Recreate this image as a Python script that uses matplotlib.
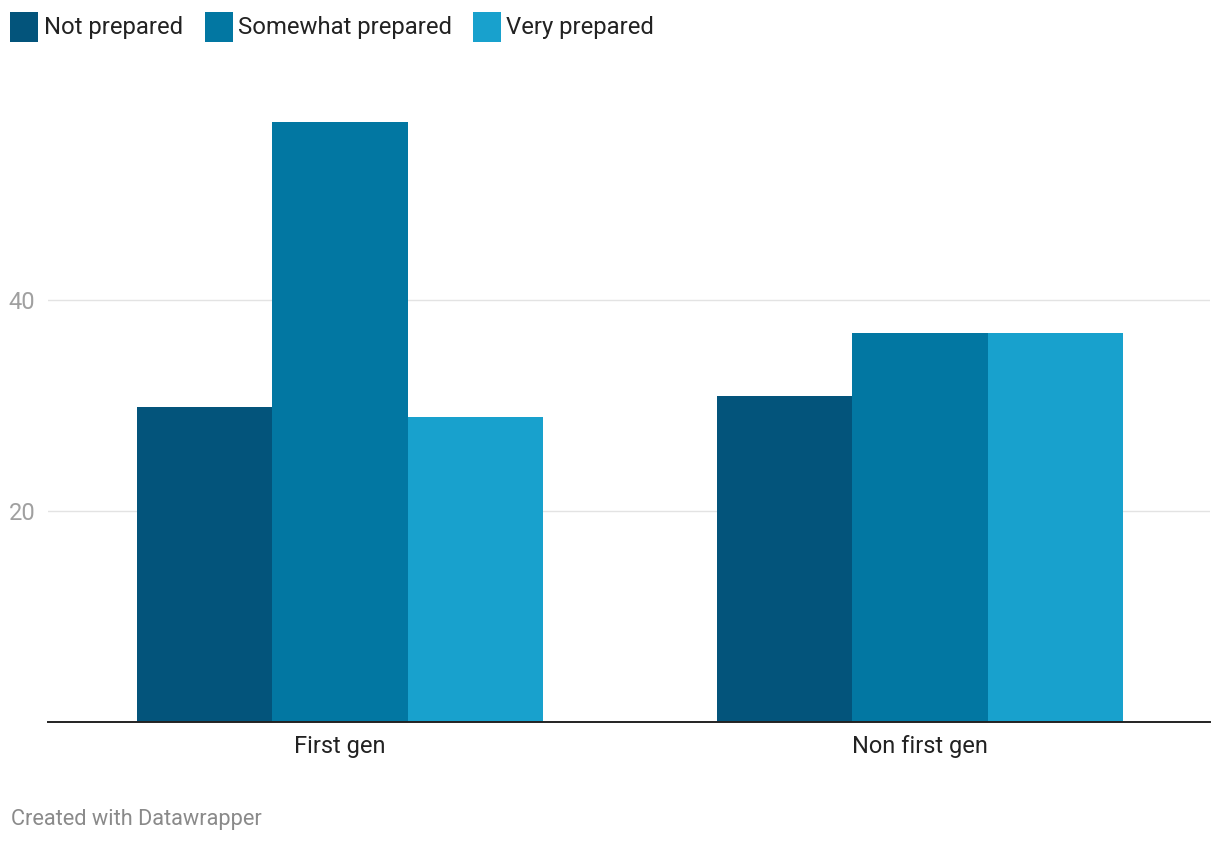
import matplotlib
matplotlib.use("Agg")
import matplotlib.pyplot as plt
import numpy as np
from matplotlib.patches import Rectangle

categories = ["First gen", "Non first gen"]
series_names = ["Not prepared", "Somewhat prepared", "Very prepared"]
not_prepared = [29.9, 30.9]
somewhat_prepared = [56.9, 36.9]
very_prepared = [28.9, 36.9]
y_ticks = [20, 40]

colors = ["#03547b", "#0277a2", "#18a1cd"]

plt.rcParams['font.family'] = ['Roboto', 'DejaVu Sans']

W, H = 1220, 844
fig = plt.figure(figsize=(W / 100, H / 100), dpi=100)

def fx(px):
    return px / W

def fy(py):
    return 1 - py / H

ax_left, ax_right = 48, 1210
ax_bottom, ax_top = 722, 89
ax = fig.add_axes([fx(ax_left), fy(ax_bottom), fx(ax_right - ax_left), fy(ax_top) - fy(ax_bottom)])

x = np.arange(len(categories))
bw = 0.2332
series = [not_prepared, somewhat_prepared, very_prepared]
for i, (vals, c) in enumerate(zip(series, colors)):
    ax.bar(x + (i - 1) * bw, vals, width=bw, color=c, linewidth=0, zorder=3)

ax.set_xlim(-0.5034, 1.5)
ax.set_ylim(0, 60)
ax.set_yticks(y_ticks)
ax.set_yticklabels([str(t) for t in y_ticks])
ax.set_xticks(x)
ax.set_xticklabels(categories)
ax.grid(axis='y', color='#e3e3e3', linewidth=1.0, zorder=0)
for s in ['top', 'right', 'left']:
    ax.spines[s].set_visible(False)
ax.spines['bottom'].set_color('#222222')
ax.spines['bottom'].set_linewidth(1.4)
ax.spines['bottom'].set_zorder(4)
ax.tick_params(axis='y', length=0, pad=9, labelsize=17, labelcolor='#a0a0a0')
ax.tick_params(axis='x', length=0, pad=9, labelsize=17, labelcolor='#222222')

# legend
legend_items = [(10, 44), (205, 238), (473, 506)]
for (sx, tx), name, c in zip(legend_items, series_names, colors):
    fig.patches.append(Rectangle((fx(sx), fy(42)), fx(28), fy(12) - fy(42),
                                 transform=fig.transFigure, color=c, linewidth=0))
    fig.text(fx(tx), fy(27.5), name, fontsize=17.2, color='#222222', va='center', ha='left')

fig.text(fx(11), fy(819), "Created with Datawrapper", fontsize=15.7, color='#8a8a8a',
         va='center', ha='left')

fig.savefig("out.png", dpi=100, facecolor='white')
